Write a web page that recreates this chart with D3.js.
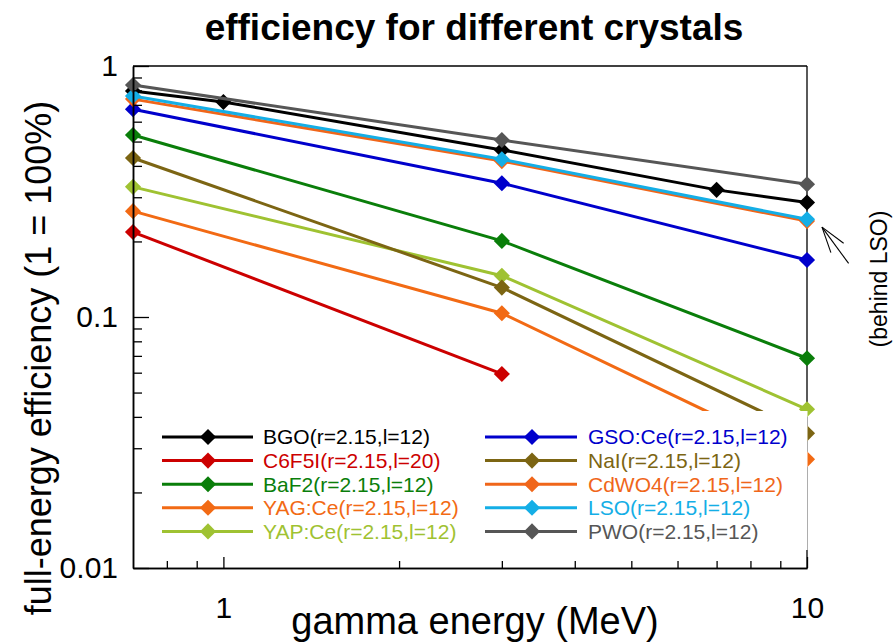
<!DOCTYPE html>
<html>
<head>
<meta charset="utf-8">
<script src="https://cdn.jsdelivr.net/npm/d3@7"></script>
<style>
  html, body { margin: 0; padding: 0; background: #fff; }
  svg { display: block; font-family: "Liberation Sans", Arial, sans-serif; }
</style>
</head>
<body>
<div id="chart"></div>
<script>
// chart data
const crystalNames = ["BGO(r=2.15,l=12)", "C6F5I(r=2.15,l=20)", "BaF2(r=2.15,l=12)", "YAG:Ce(r=2.15,l=12)", "YAP:Ce(r=2.15,l=12)",
                      "GSO:Ce(r=2.15,l=12)", "NaI(r=2.15,l=12)", "CdWO4(r=2.15,l=12)", "LSO(r=2.15,l=12)", "PWO(r=2.15,l=12)"];
const crystalColors = ["#000000", "#cc0000", "#0a7e0a", "#f26a14", "#9fc232",
                       "#0000cc", "#7c6513", "#f0661a", "#14aee6", "#565656"];

const bgoEnergy = [0.7, 1, 3, 7, 10];
const bgoEff = [0.795, 0.719, 0.463, 0.321, 0.286];
const c6f5iEnergy = [0.7, 3];
const c6f5iEff = [0.218, 0.0593];
const stdEnergy = [0.7, 3, 10];
const baf2Eff = [0.531, 0.201, 0.0685];
const yagEff = [0.264, 0.1035, 0.0271];
const yapEff = [0.330, 0.146, 0.0429];
const gsoEff = [0.673, 0.341, 0.1687];
const naiEff = [0.430, 0.131, 0.0344];
const cdwo4Eff = [0.738, 0.418, 0.241];
const lsoEff = [0.759, 0.425, 0.245];
const pwoEff = [0.840, 0.507, 0.338];

const xMajorTicks = [1, 10];
const xMinorTicks = [0.8, 0.9, 2, 3, 4, 5, 6, 7, 8, 9];
const yMajorTicks = [0.01, 0.1, 1];
const yMinorTicks = [0.02, 0.03, 0.04, 0.05, 0.06, 0.07, 0.08, 0.09, 0.2, 0.3, 0.4, 0.5, 0.6, 0.7, 0.8, 0.9];

const seriesEnergy = [bgoEnergy, c6f5iEnergy, stdEnergy, stdEnergy, stdEnergy, stdEnergy, stdEnergy, stdEnergy, stdEnergy, stdEnergy];
const seriesEff = [bgoEff, c6f5iEff, baf2Eff, yagEff, yapEff, gsoEff, naiEff, cdwo4Eff, lsoEff, pwoEff];

const series = crystalNames.map((name, i) => ({
  name: name,
  color: crystalColors[i],
  points: seriesEnergy[i].map((e, j) => ({ e: e, v: seriesEff[i][j] }))
}));

// layout
const WIDTH = 894, HEIGHT = 642;
const LEFT = 133, RIGHT = 807, TOP = 66, BOTTOM = 568;

const svg = d3.select("#chart").append("svg")
  .attr("width", WIDTH)
  .attr("height", HEIGHT);

const x = d3.scaleLog().domain([0.7, 10]).range([LEFT, RIGHT]);
const y = d3.scaleLog().domain([0.01, 1]).range([BOTTOM, TOP]);

// frame: top and right lines
svg.append("line").attr("x1", LEFT).attr("x2", RIGHT).attr("y1", TOP).attr("y2", TOP)
  .attr("stroke", "#000").attr("stroke-width", 1.3);
svg.append("line").attr("x1", RIGHT).attr("x2", RIGHT).attr("y1", TOP).attr("y2", BOTTOM)
  .attr("stroke", "#000").attr("stroke-width", 1.3);

// data lines + diamonds
const line = d3.line().x(d => x(d.e)).y(d => y(d.v));
const diamond = d3.symbol().type(d3.symbolSquare).size(130);

const g = svg.append("g");
series.forEach(s => {
  g.append("path")
    .datum(s.points)
    .attr("d", line)
    .attr("fill", "none")
    .attr("stroke", s.color)
    .attr("stroke-width", 3);
  g.selectAll(null)
    .data(s.points)
    .enter().append("path")
    .attr("d", diamond)
    .attr("transform", d => `translate(${x(d.e)},${y(d.v)}) rotate(45)`)
    .attr("fill", s.color);
});

// legend (white box covers lines beneath it)
const legendTop = 411, legendBottom = 550, legendLeft = 148;
svg.append("rect")
  .attr("x", legendLeft).attr("y", legendTop)
  .attr("width", RIGHT - legendLeft + 0.5).attr("height", legendBottom - legendTop)
  .attr("fill", "#fff");

const legendCols = [{ x1: 162, x2: 253, xs: 208, xt: 263 }, { x1: 485, x2: 577, xs: 532, xt: 588 }];
const legendRow0 = 437, legendStep = 23.6;
series.forEach((s, i) => {
  const col = legendCols[Math.floor(i / 5)];
  const ly = legendRow0 + (i % 5) * legendStep;
  svg.append("line")
    .attr("x1", col.x1).attr("x2", col.x2).attr("y1", ly).attr("y2", ly)
    .attr("stroke", s.color).attr("stroke-width", 3);
  svg.append("path")
    .attr("d", diamond)
    .attr("transform", `translate(${col.xs},${ly}) rotate(45)`)
    .attr("fill", s.color);
  svg.append("text")
    .attr("x", col.xt).attr("y", ly).attr("dy", "0.35em")
    .attr("font-size", 21)
    .attr("fill", s.color)
    .text(s.name);
});

// axes
const axisStyle = sel => {
  sel.select(".domain").attr("stroke", "#000").attr("stroke-width", 1.5);
  sel.selectAll(".tick line").attr("stroke", "#000").attr("stroke-width", 1.3);
  sel.selectAll(".tick text").attr("font-size", 30).attr("font-family", null).attr("fill", "#000");
};

svg.append("g")
  .attr("transform", `translate(0,${BOTTOM})`)
  .call(d3.axisBottom(x).tickValues(xMinorTicks).tickSize(-7).tickSizeOuter(0).tickFormat(""))
  .call(axisStyle);
svg.append("g")
  .attr("transform", `translate(0,${BOTTOM})`)
  .call(d3.axisBottom(x).tickValues(xMajorTicks).tickSize(-11).tickSizeOuter(0).tickPadding(29).tickFormat(d3.format("~g")))
  .call(axisStyle);

svg.append("g")
  .attr("transform", `translate(${LEFT},0)`)
  .call(d3.axisLeft(y).tickValues(yMinorTicks).tickSize(-9).tickSizeOuter(0).tickFormat(""))
  .call(axisStyle);
svg.append("g")
  .attr("transform", `translate(${LEFT},0)`)
  .call(d3.axisLeft(y).tickValues(yMajorTicks).tickSize(-16).tickSizeOuter(0).tickPadding(15).tickFormat(d3.format("~g")))
  .call(axisStyle);

// titles
svg.append("text")
  .attr("x", 474).attr("y", 40)
  .attr("text-anchor", "middle")
  .attr("font-size", 37).attr("font-weight", "bold")
  .text("efficiency for different crystals");

svg.append("text")
  .attr("x", 475).attr("y", 634)
  .attr("text-anchor", "middle")
  .attr("font-size", 38)
  .text("gamma energy (MeV)");

svg.append("text")
  .attr("transform", "translate(51,358) rotate(-90)")
  .attr("text-anchor", "middle")
  .attr("font-size", 36)
  .text("full-energy efficiency (1 = 100%)");

// "behind LSO" note with open arrow pointing at CdWO4 at 10 MeV
const tipX = x(10) + 15, tipY = y(cdwo4Eff[2]) + 6;
const ang = Math.atan2(36.3, 26.6), shaftLen = 45, headLen = 27, spread = 17 * Math.PI / 180;
const arrow = svg.append("g").attr("stroke", "#000").attr("stroke-width", 1.1);
[[ang, shaftLen], [ang - spread, headLen], [ang + spread, headLen]].forEach(([a, len]) => {
  arrow.append("line")
    .attr("x1", tipX).attr("y1", tipY)
    .attr("x2", tipX + len * Math.cos(a)).attr("y2", tipY + len * Math.sin(a));
});

svg.append("text")
  .attr("transform", "translate(887,279) rotate(-90)")
  .attr("text-anchor", "middle")
  .attr("font-size", 23)
  .text("(behind LSO)");
</script>
</body>
</html>
